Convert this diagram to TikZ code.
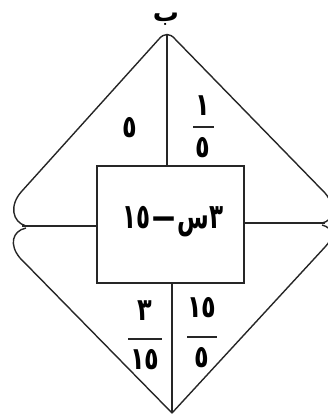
\documentclass[tikz,border=0pt]{standalone}
\usepackage{fontspec}
\usepackage{graphicx}
\newfontfamily\arabicfont[Script=Arabic]{DejaVu Sans}
\TeXXeTstate=1
\newcommand{\tallA}[1]{\scalebox{1}[1.3]{#1}}
\newcommand{\tallB}[1]{\scalebox{1}[1.5]{#1}}
\tikzset{
  outline/.style={line width=1.4pt, draw=black!85, line join=round},
  lab/.style={inner sep=0pt, font=\arabicfont\bfseries\fontsize{24}{24}\selectfont},
  big/.style={inner sep=0pt, font=\arabicfont\bfseries\fontsize{23}{23}\selectfont},
  bar/.style={line width=1.6pt, draw=black!85}
}
\begin{document}
\begin{tikzpicture}[x=1pt,y=-1pt]
\useasboundingbox (0,0) rectangle (327,419);
% outer shape
\draw[outline] (26,226) .. controls (12,222) and (9,205) .. (22,191) -- (159,39) .. controls (164,33) and (170,33) .. (175,39) -- (325,193) .. controls (336,206) and (334,221) .. (322,223);
\draw[outline] (26,228) .. controls (12,231) and (9,245) .. (20,258) -- (172,413) -- (325,247) .. controls (334,238) and (334,228) .. (322,225);
% box
\node[draw=black!85, line width=1.4pt, minimum width=147pt, minimum height=117pt, inner sep=0pt] (box) at (170.5,224.5) {};
\coordinate (top) at (167,34);
\coordinate (bot) at (172,413);
\coordinate (lt) at (22,226);
\coordinate (rt) at (325,223);
\draw[outline] (top) -- (top |- box.north);
\draw[outline] (bot) -- (bot |- box.south);
\draw[outline] (lt) -- (lt -| box.west);
\draw[outline] (rt) -- (rt -| box.east);
% box text
\node[big] (expr) at (173,222) {\tallB{\beginR ٣س\kern2pt—\kern2pt١٥\endR}};
% top label
\node[inner sep=0pt, anchor=base, font=\arabicfont\bfseries\fontsize{26}{26}\selectfont] (b) at (166,22) {ب};
% upper left
\node[lab] (ul) at (130,128) {\tallA{٥}};
% upper right fraction
\node[lab] (urn) at (203,106) {\tallA{١}};
\node[lab] (urd) at (203,148) {\tallA{٥}};
\draw[bar] (193,127) -- (214,127);
% lower left fraction
\node[lab] (lln) at (145,311) {\tallA{٣}};
\node[lab] (lld) at (145,360) {\tallA{١٥}};
\draw[bar] (128,339) -- (162,339);
% lower right fraction
\node[lab] (lrn) at (202,308) {\tallA{١٥}};
\node[lab] (lrd) at (202,358) {\tallA{٥}};
\draw[bar] (187,337) -- (217,337);
\end{tikzpicture}
\end{document}
